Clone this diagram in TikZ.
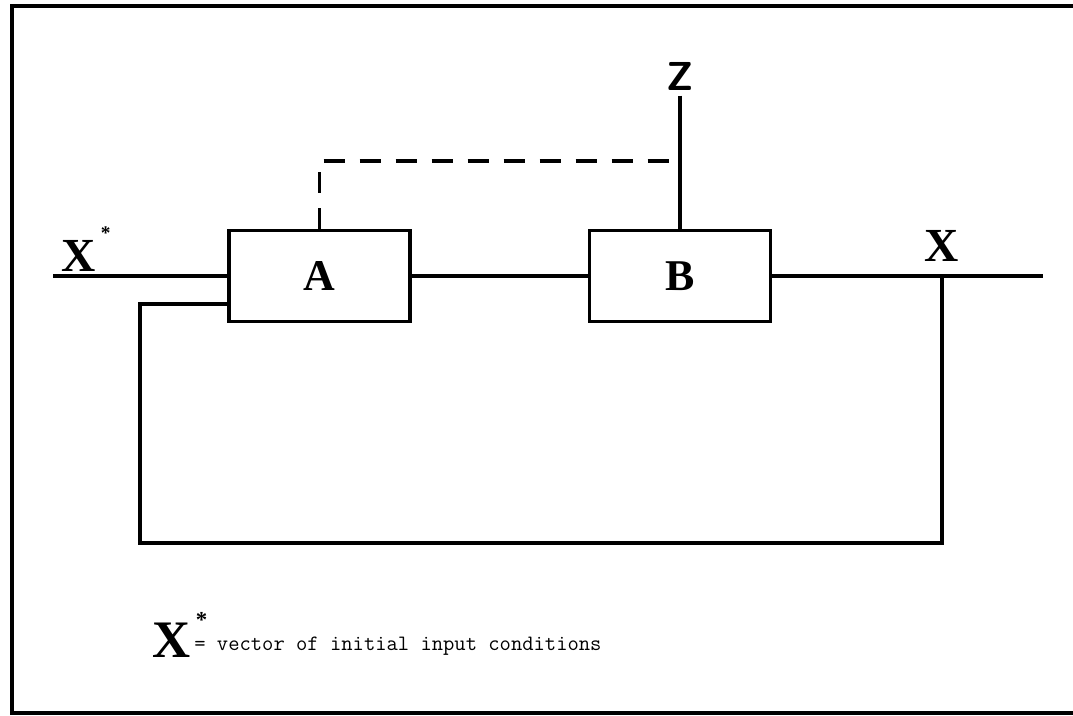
\documentclass[tikz,border=0pt]{standalone}
\usepackage{fontspec}
\usetikzlibrary{positioning}
\newfontfamily\blkfont{Liberation Serif}

\begin{document}
\begin{tikzpicture}[x=0.02cm, y=-0.02cm,
  blk/.style={draw, line width=2pt, minimum width=3.62cm, minimum height=1.82cm,
              inner sep=0pt, font=\blkfont\bfseries\fontsize{25}{25}\selectfont},
  lbl/.style={inner sep=1pt, font=\blkfont\bfseries\fontsize{27}{27}\selectfont},
  wire/.style={line width=2pt},
  note/.style={inner sep=0pt, font=\ttfamily\fontsize{12.5}{14}\selectfont},
]
\useasboundingbox (0,0) rectangle (1073,716);
% frame, open on the right
\draw[wire] (1073,6) -| (12,713) -- (1073,713);

% blocks
\node[blk] (a) at (319.5,276) {A};
\node[blk] (b) at (680,276) {B};

% labels
\node[lbl] (xstar) at (79,249) {X\rlap{\raisebox{1.5ex}{\fontsize{11}{11}\selectfont\ *}}};
\node[lbl] (xlab) at (942,246) {X};
\node[inner sep=3pt, font=\sffamily\bfseries\fontsize{23}{23}\selectfont] (z) at (680,76) {Z};

% points on the wires
\coordinate (xin) at (53,276);
\coordinate (xout) at (1043,276);
\coordinate (tap) at (942,276);
\coordinate (fb) at (140,543);
\coordinate (j) at (680,161);

\draw[wire] (xin) -- (a.west);
\draw[wire] (a.east) -- (b.west);
\draw[wire] (b.east) -- (xout);
\draw[wire] (z) -- (b);
\draw[wire] (tap) |- (fb) |- ([yshift=-0.56cm]a.west);
\draw[wire, dash pattern=on 0.42cm off 0.3cm] (a.north) |- (j);

% key
\node[lbl, anchor=base west, font=\blkfont\bfseries\fontsize{30}{30}\selectfont] (keyx) at (150,658)
  {X\rlap{\raisebox{1.25ex}{\fontsize{13}{13}\selectfont\ *}}};
\node[note, anchor=base west] (keytxt) at (194,650) {= vector of initial input conditions};
\end{tikzpicture}
\end{document}
